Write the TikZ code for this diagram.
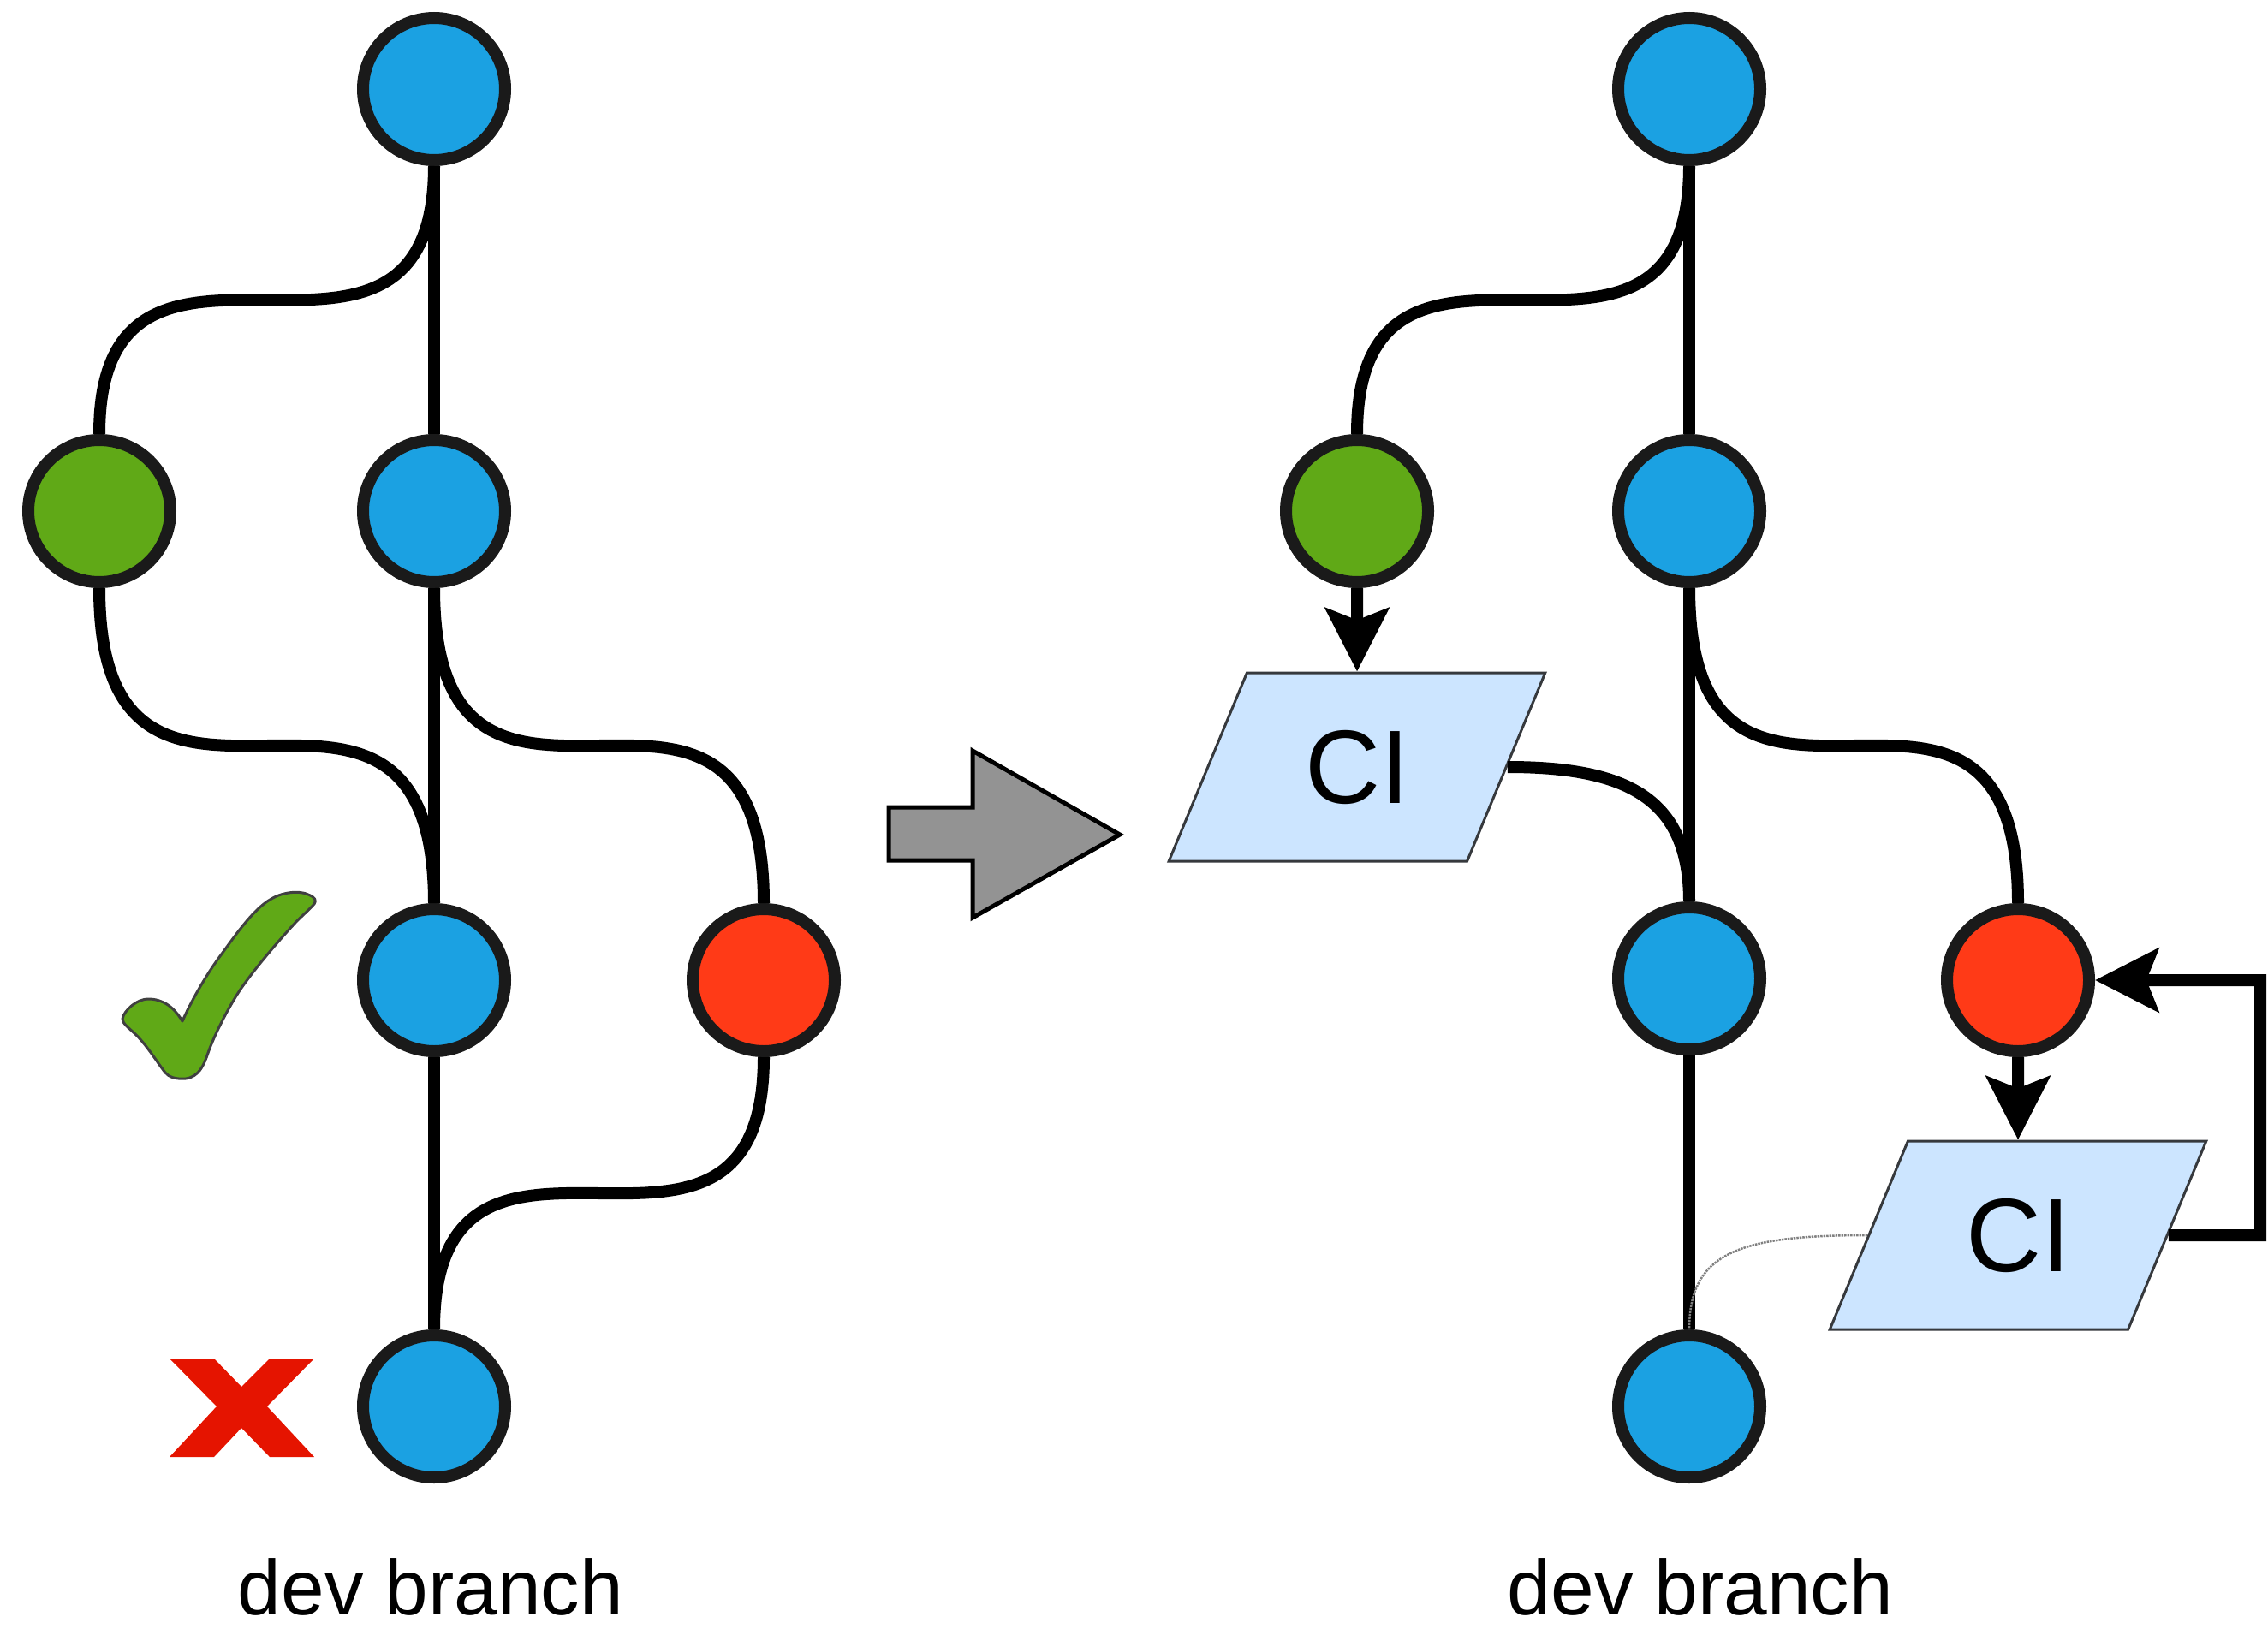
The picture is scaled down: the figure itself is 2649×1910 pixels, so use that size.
\documentclass[tikz,border=0pt]{standalone}
\usepackage{fontspec}
\setmainfont{Liberation Sans}
\usetikzlibrary{arrows.meta,shapes.geometric}
\definecolor{nblue}{HTML}{1BA1E2}
\definecolor{ngreen}{HTML}{60A917}
\definecolor{nred}{HTML}{FF3A17}
\definecolor{nstroke}{HTML}{1A1A1A}
\definecolor{cifill}{HTML}{CCE5FF}
\definecolor{cistroke}{HTML}{36393D}
\definecolor{xred}{HTML}{E51400}
\definecolor{arrgray}{HTML}{939393}
\begin{document}
\begin{tikzpicture}[x=1pt,y=-1pt,
  commit/.style={circle, draw=nstroke, line width=14pt, minimum size=166pt, inner sep=0pt},
  bluec/.style={commit, fill=nblue},
  greenc/.style={commit, fill=ngreen},
  redc/.style={commit, fill=nred},
  edgeline/.style={line width=14pt, draw=black},
  arrowline/.style={edgeline, -{Stealth[length=74pt,width=74pt,inset=14pt]}},
  cibox/.style={trapezium, trapezium left angle=63.4, trapezium right angle=116.6,
    trapezium stretches=true, minimum width=440pt, minimum height=220pt,
    fill=cifill, draw=cistroke, line width=3pt, inner sep=0pt,
    font=\fontsize{122}{130}\selectfont},
  devlabel/.style={font=\fontsize{91}{100}\selectfont, anchor=base, inner sep=0pt},
]
\useasboundingbox (0,0) rectangle (2649,1910);

% ---------- left graph ----------
\node[bluec] (b1) at (507,104) {};
\node[bluec] (b2) at (507,597) {};
\node[bluec] (b3) at (507,1145) {};
\node[bluec] (b4) at (507,1643) {};
\node[greenc] (g) at (116,597) {};
\node[redc] (r) at (892,1145) {};

\draw[edgeline] (b1.south) -- (b2.north);
\draw[edgeline] (b2.south) -- (b3.north);
\draw[edgeline] (b3.south) -- (b4.north);
\draw[edgeline] (b1.south) .. controls +(0,316) and +(0,-316) .. (g.north);
\draw[edgeline] (g.south) .. controls +(0,373) and +(0,-373) .. (b3.north);
\draw[edgeline] (b2.south) .. controls +(0,373) and +(0,-373) .. (r.north);
\draw[edgeline] (r.south) .. controls +(0,322) and +(0,-322) .. (b4.north);

% check mark
\filldraw[fill=ngreen, draw=black!75, line width=3pt, line join=round]
  (213,1193)
  .. controls (222,1172) and (240,1140) .. (257,1117)
  .. controls (272,1097) and (295,1062) .. (317,1050)
  .. controls (330,1042) and (350,1040) .. (360,1045)
  .. controls (368,1048) and (370,1052) .. (367,1056)
  .. controls (358,1066) and (350,1072) .. (343,1080)
  .. controls (320,1105) and (295,1135) .. (280,1157)
  .. controls (265,1180) and (250,1210) .. (243,1230)
  .. controls (238,1245) and (232,1258) .. (217,1260)
  .. controls (205,1261) and (197,1258) .. (193,1253)
  .. controls (185,1243) and (172,1222) .. (160,1210)
  .. controls (150,1200) and (143,1196) .. (143,1190)
  .. controls (145,1180) and (160,1167) .. (173,1167)
  .. controls (190,1167) and (203,1176) .. cycle;

% x mark
\fill[xred] (198,1587) -- (250,1587) -- (282,1620) -- (315,1587) -- (367,1587)
  -- (312,1643) -- (367,1702) -- (315,1702) -- (282,1668) -- (250,1702)
  -- (198,1702) -- (253,1643) -- cycle;

% big gray arrow
\draw[fill=arrgray, draw=black, line width=5pt, line join=miter]
  (1038,943) -- (1136,943) -- (1136,877) -- (1308,975) -- (1136,1072)
  -- (1136,1005) -- (1038,1005) -- cycle;

% ---------- right graph ----------
\node[bluec] (B1) at (1973,104) {};
\node[bluec] (B2) at (1973,597) {};
\node[bluec] (B3) at (1973,1143) {};
\node[bluec] (B4) at (1973,1643) {};
\node[greenc] (G) at (1585,597) {};
\node[redc] (R) at (2357,1145) {};
\node[cibox] (ci1) at (1585,896) {CI};
\node[cibox] (ci2) at (2357,1443) {CI};
\coordinate (fb) at (2640,1443);

\draw[edgeline] (B1.south) -- (B2.north);
\draw[edgeline] (B2.south) -- (B3.north);
\draw[edgeline] (B3.south) -- (B4.north);
\draw[edgeline] (B1.south) .. controls +(0,316) and +(0,-316) .. (G.north);
\draw[edgeline] (B2.south) .. controls +(0,373) and +(0,-373) .. (R.north);
\draw[arrowline] (G.south) -- (ci1.north);
\draw[arrowline] (R.south) -- (ci2.north);
\draw[edgeline] (ci1.east) .. controls +(140,0) and +(0,-120) .. (B3.north);
\draw[gray, line width=2.5pt, densely dotted] (ci2.west) .. controls +(-150,0) and +(0,-90) .. (B4.north);
\draw[arrowline, line join=miter] (ci2.east) -- (fb) |- (R.east);

% labels
\node[devlabel] (t1) at (503,1886) {dev branch};
\node[devlabel] (t2) at (1986,1886) {dev branch};
\end{tikzpicture}
\end{document}
